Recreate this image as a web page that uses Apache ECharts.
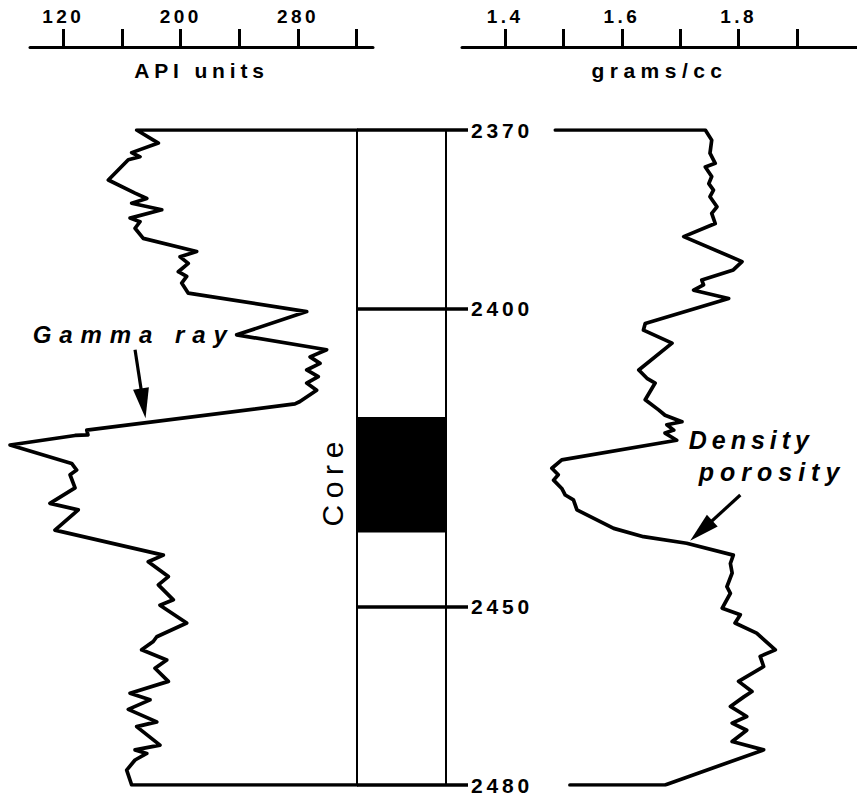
<!DOCTYPE html>
<html><head><meta charset="utf-8">
<script src="https://cdn.jsdelivr.net/npm/echarts@6/dist/echarts.min.js"></script>
<style>html,body{margin:0;padding:0;background:#fff}#c{width:857px;height:805px}</style>
</head><body><div id="c"></div>
<script>
// ---------- data ----------
const depthTicks = [2370, 2400, 2450, 2480];
const apiTicks = [120, 160, 200, 240, 280, 320];
const apiLabels = [120, 200, 280];
const densTicks = [1.4, 1.5, 1.6, 1.7, 1.8, 1.9];
const densLabels = [1.4, 1.6, 1.8];
const coreInterval = [2418.2, 2437.6];

const gammaApi = [320, 170.0, 184.8, 166.6, 172.3, 164.3, 150.7, 168.9, 176.9, 166.6, 187.1, 165.5, 172.3, 168.9, 174.5,
  210.9, 199.6, 205.2, 198.4, 204.1, 200.7, 205.2, 285.9, 238.2, 299.5, 288.2, 295.0, 285.9, 293.8, 285.9, 292.7,
  281.3, 277.9, 136.0, 136.8, 128.0, 83.7, 125.7, 129.1, 124.6, 128.0, 110.9, 130.2, 114.3, 188.2, 177.9, 191.6,
  184.8, 195.0, 185.9, 204.1, 183.7, 181.3, 173.4, 190.5, 182.5, 191.6, 165.5, 179.1, 164.3, 183.7, 170.0, 185.9,
  168.9, 176.9, 168.9, 163.2, 166.6, 320];
const gammaDepth = [2370, 2370, 2372.2, 2373.8, 2374.5, 2375.0, 2378.4, 2380.6, 2381.5, 2382.3, 2383.4, 2384.8, 2385.4, 2386.5, 2388.2,
  2390.4, 2391.3, 2392.4, 2393.8, 2394.6, 2395.7, 2397.4, 2400.5, 2404.4, 2406.9, 2408.1, 2409.2, 2410.3, 2411.4, 2412.5, 2413.7,
  2415.6, 2416.0, 2420.4, 2421.2, 2421.3, 2422.9, 2426.0, 2427.1, 2427.9, 2430.1, 2432.7, 2433.8, 2437.2, 2441.4, 2442.5, 2445.0,
  2446.4, 2448.9, 2449.8, 2452.8, 2455.1, 2455.9, 2457.3, 2459.0, 2460.4, 2462.6, 2464.6, 2465.7, 2467.3, 2469.4, 2470.2, 2473.3,
  2474.1, 2474.7, 2475.8, 2477.5, 2480, 2480];

const densityGcc = [1.486, 1.743, 1.754, 1.751, 1.760, 1.743, 1.754, 1.749, 1.757, 1.751, 1.763, 1.754, 1.760, 1.706, 1.806,
  1.791, 1.737, 1.740, 1.723, 1.783, 1.640, 1.637, 1.686, 1.629, 1.643, 1.657, 1.640, 1.663, 1.674, 1.703, 1.677,
  1.689, 1.674, 1.694, 1.497, 1.480, 1.491, 1.483, 1.497, 1.503, 1.517, 1.523, 1.586, 1.637, 1.711, 1.791, 1.786,
  1.789, 1.780, 1.786, 1.772, 1.803, 1.794, 1.831, 1.863, 1.837, 1.843, 1.800, 1.823, 1.809, 1.786, 1.814, 1.789,
  1.814, 1.789, 1.843, 1.674, 1.511];
const densityDepth = [2370, 2370, 2371.7, 2373.9, 2375.6, 2376.2, 2377.8, 2379.0, 2380.1, 2381.2, 2382.9, 2384.0, 2385.7, 2387.9, 2392.1,
  2393.5, 2395.2, 2396.0, 2396.9, 2398.3, 2402.5, 2403.6, 2405.8, 2410.3, 2411.7, 2412.5, 2415.3, 2417.0, 2417.9, 2419.0, 2419.5,
  2420.4, 2420.9, 2422.1, 2425.4, 2426.8, 2427.9, 2428.8, 2430.2, 2431.3, 2432.1, 2433.8, 2436.9, 2438.3, 2439.4, 2441.4, 2442.8,
  2444.4, 2446.7, 2447.8, 2450.3, 2451.4, 2452.8, 2454.5, 2457.3, 2458.4, 2460.1, 2462.6, 2464.3, 2465.2, 2466.8, 2468.5, 2469.6,
  2470.8, 2472.7, 2474.1, 2480, 2480];

// annotations (data coordinates)
const gammaLabelAt = [238.2, 2404.4];
const gammaArrow = [[168.9, 2406.9], [174.5, 2415.9]];
const densLabelAt = [1.694, 2422.1];
const densArrow = [[1.803, 2431.3], [1.736, 2437.3]];

// ---------- chart ----------
const FONT = "'Liberation Sans', Arial, Helvetica, sans-serif";
const BLACK = '#000';
const chart = echarts.init(document.getElementById('c'), null, {renderer: 'svg'});

// API scale: 1.467 px per unit; visible scale bar spans 30..373 px, trace area starts at 0 px
const API_MIN = 97.3, API_MAX = 331.1, API_PLOT_MIN = 76.85;

function topAxis(grid, min, max, ticks, labels, name) {
  return {
    type: 'value', gridIndex: grid, position: 'top', offset: 83, min: min, max: max,
    axisLine: {show: true, onZero: false, lineStyle: {color: BLACK, width: 3}},
    axisTick: {show: true, customValues: ticks, length: 18, lineStyle: {color: BLACK, width: 3}},
    axisLabel: {show: true, customValues: labels, margin: 21, fontSize: 19, fontWeight: 'bold', color: BLACK, fontFamily: FONT},
    splitLine: {show: false},
    name: name, nameLocation: 'middle', nameGap: -23,
    nameTextStyle: {fontSize: 21, fontWeight: 'bold', color: BLACK, fontFamily: FONT, verticalAlign: 'middle'}
  };
}
function hiddenY(grid) {
  return {type: 'value', gridIndex: grid, min: 2370, max: 2480, inverse: true, show: false};
}
const zip = (a, b) => a.map((v, i) => [v, b[i]]);
const curveStyle = {color: BLACK, width: 3.7, join: 'round', cap: 'round'};

const option = {
  backgroundColor: '#fff',
  animation: false,
  textStyle: {fontFamily: FONT, color: BLACK},
  grid: [
    {left: 30, top: 130, width: 343, height: 655, outerBoundsMode: 'none'},
    {left: 357, top: 130, width: 89, height: 655, show: true, borderColor: BLACK, borderWidth: 2, backgroundColor: 'transparent', outerBoundsMode: 'none'},
    {left: 462, top: 130, width: 395, height: 655, outerBoundsMode: 'none'},
    {left: 0, top: 130, width: 373, height: 655, outerBoundsMode: 'none'}
  ],
  xAxis: [
    topAxis(0, API_MIN, API_MAX, apiTicks, apiLabels, 'API units'),
    {type: 'value', gridIndex: 1, min: 0, max: 1, show: false},
    topAxis(2, 1.326, 2.003, densTicks, densLabels, 'grams/cc'),
    {type: 'value', gridIndex: 3, min: API_PLOT_MIN, max: API_MAX, show: false}
  ],
  yAxis: [
    hiddenY(0),
    {
      type: 'value', gridIndex: 1, min: 2370, max: 2480, inverse: true, position: 'right',
      axisLine: {show: true, onZero: false, lineStyle: {color: BLACK, width: 2}},
      axisTick: {show: true, customValues: depthTicks, length: 22, lineStyle: {color: BLACK, width: 3.5}},
      axisLabel: {show: true, customValues: depthTicks, margin: 25, fontSize: 21, fontWeight: 'bold', color: BLACK, fontFamily: FONT,
        formatter: v => String(v)},
      splitLine: {show: false}
    },
    hiddenY(2),
    hiddenY(3)
  ],
  series: [
    {
      name: 'Gamma ray', type: 'line', xAxisIndex: 3, yAxisIndex: 3,
      data: zip(gammaApi, gammaDepth), symbol: 'none', silent: true,
      lineStyle: curveStyle,
      markPoint: {
        silent: true, symbol: 'circle', symbolSize: 0,
        data: [{coord: gammaLabelAt}],
        label: {show: true, position: 'left', distance: 2, formatter: 'Gamma ray',
          fontSize: 24, fontStyle: 'italic', fontWeight: 'bold', color: BLACK, fontFamily: FONT}
      },
      markLine: {
        silent: true, symbol: ['none', 'triangle'], symbolSize: [0, 16],
        lineStyle: {color: BLACK, width: 3.2, type: 'solid'}, label: {show: false},
        data: [[{coord: gammaArrow[0]}, {coord: gammaArrow[1], symbolSize: [16, 30], itemStyle: {color: BLACK}}]]
      }
    },
    {
      name: 'Core', type: 'line', xAxisIndex: 1, yAxisIndex: 1,
      data: [], symbol: 'none', silent: true,
      markArea: {
        silent: true, itemStyle: {color: BLACK},
        label: {show: true, position: 'left', distance: 10, rotate: 90, align: 'center', verticalAlign: 'bottom',
          offset: [-6, 0], formatter: 'Core', fontSize: 30, color: BLACK, fontFamily: FONT},
        data: [[{yAxis: coreInterval[0]}, {yAxis: coreInterval[1]}]]
      },
      markLine: {
        silent: true, symbol: ['none', 'none'], label: {show: false},
        lineStyle: {color: BLACK, width: 3.5, type: 'solid'},
        data: depthTicks.map(d => ({yAxis: d}))
      }
    },
    {
      name: 'Density porosity', type: 'line', xAxisIndex: 2, yAxisIndex: 2,
      data: zip(densityGcc, densityDepth), symbol: 'none', silent: true,
      lineStyle: curveStyle,
      markPoint: {
        silent: true, symbol: 'circle', symbolSize: 0,
        data: [{coord: densLabelAt}],
        label: {show: true, position: 'right', distance: 12, offset: [0, 16],
          formatter: '{d|Density}\n{p|porosity}',
          rich: {
            d: {fontSize: 25, lineHeight: 32, fontStyle: 'italic', fontWeight: 'bold', color: BLACK, fontFamily: FONT},
            p: {fontSize: 25, lineHeight: 32, fontStyle: 'italic', fontWeight: 'bold', color: BLACK, fontFamily: FONT, padding: [0, 0, 0, 10]}
          }}
      },
      markLine: {
        silent: true, symbol: ['none', 'triangle'], symbolSize: [0, 16],
        lineStyle: {color: BLACK, width: 3.2, type: 'solid'}, label: {show: false},
        data: [[{coord: densArrow[0]}, {coord: densArrow[1], symbolSize: [16, 30], itemStyle: {color: BLACK}}]]
      }
    }
  ]
};
chart.setOption(option);

// wide tracking of the original lettering
const SPACING = {'API units': 0.23, 'grams/cc': 0.26, 'Gamma ray': 0.33, 'Density': 0.2, 'porosity': 0.24, 'Core': 0.22};
function applySpacing() {
  document.querySelectorAll('#c svg text').forEach(t => {
    const s = t.textContent.trim();
    let em = SPACING[s];
    if (em == null) em = /^[\d.]+$/.test(s) ? 0.18 : 0.2;
    t.setAttribute('letter-spacing', em + 'em');
  });
}
chart.on('finished', applySpacing);
applySpacing();
setTimeout(applySpacing, 30);
</script>
</body></html>
